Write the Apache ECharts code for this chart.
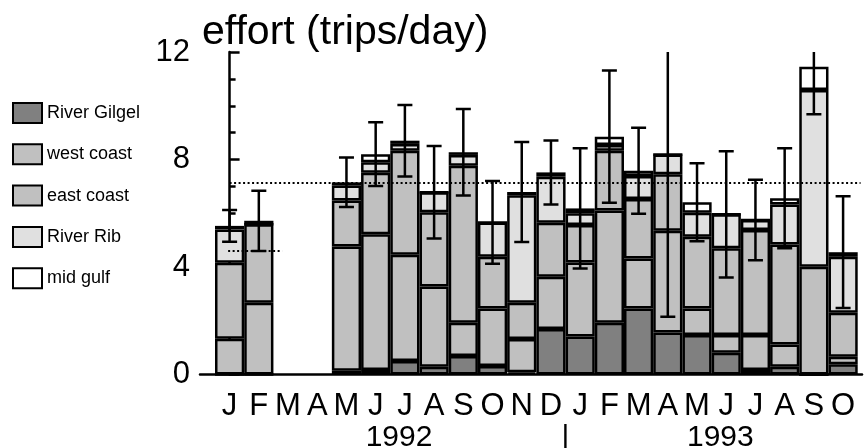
<!DOCTYPE html>
<html>
<head>
<meta charset="utf-8">
<script src="https://cdn.jsdelivr.net/npm/echarts@6/dist/echarts.min.js"></script>
<style>html,body{margin:0;padding:0;background:#fff}#c{width:865px;height:448px}</style>
</head>
<body>
<div id="c"></div>
<script>
// ---- data ----
var months = ['J','F','M','A','M','J','J','A','S','O','N','D','J','F','M','A','M','J','J','A','S','O'];
var riverGilgel = [0, 0, null, null, 0.14, 0.17, 0.50, 0.29, 0.69, 0.32, 0.08, 1.69, 1.41, 1.93, 2.46, 1.56, 1.47, 0.81, 0.17, 0.29, 0, 0.38];
var westCoast   = [1.33, 2.67, null, null, 4.62, 5.05, 3.96, 2.98, 1.24, 2.14, 1.24, 1.95, 2.76, 4.17, 1.86, 3.79, 0.99, 0.66, 1.30, 0.83, 0, 0.28];
var eastCoast   = [2.83, 2.92, null, null, 1.71, 2.29, 3.87, 2.77, 5.84, 1.92, 1.35, 2.01, 1.39, 2.23, 2.21, 2.10, 2.67, 3.23, 3.91, 3.72, 4.01, 1.64];
var riverRib    = [1.24, 0, null, null, 0.56, 0.39, 0.25, 0.74, 0.40, 1.28, 4.00, 1.71, 0.44, 0.21, 0.86, 0.74, 0.89, 1.26, 0.37, 1.49, 6.58, 2.08];
var midGulf     = [0.13, 0.13, null, null, 0.12, 0.30, 0.12, 0, 0.10, 0, 0.12, 0.16, 0.18, 0.31, 0.19, 0, 0.39, 0, 0, 0.23, 0.86, 0.17];
var errHalf     = [0.59, 1.12, null, null, 0.92, 1.19, 1.33, 1.72, 1.61, 1.54, 1.86, 1.19, 2.24, 2.46, 1.60, 6.04, 1.45, 2.35, 1.50, 1.86, 1.77, 2.08];
var meanLines   = [{value: 7.13, from: 0, to: 21.6}, {value: 4.60, from: -0.05, to: 1.8}];
var yearLabels  = [{text: '1992', at: 5.8}, {text: '|', at: 11.5}, {text: '1993', at: 16.8}];
var yTicks = [0, 4, 8, 12];

// ---- build ----
var seriesNames = ['River Gilgel', 'west coast', 'east coast', 'River Rib', 'mid gulf'];
var seriesData  = [riverGilgel, westCoast, eastCoast, riverRib, midGulf];
var colors      = ['#808080', '#c0c0c0', '#c0c0c0', '#e0e0e0', '#ffffff'];

// frame axis (grid 1) value range chosen so that bar i centre maps to value i
var XMIN = -1.013, XMAX = 21.65;
var FONT = '"Liberation Sans", Arial, Helvetica, sans-serif';

var series = seriesNames.map(function (n, k) {
  return {
    name: n, type: 'bar', stack: 'effort',
    xAxisIndex: 0, yAxisIndex: 0,
    barCategoryGap: 0,
    data: seriesData[k],
    itemStyle: { color: colors[k], borderColor: '#000', borderWidth: 2.5 },
    emphasis: { disabled: true },
    z: 2, silent: true
  };
});

var totals = months.map(function (m, i) {
  if (riverGilgel[i] == null) return null;
  var s = 0; seriesData.forEach(function (a) { s += a[i]; }); return s;
});
var errData = [];
totals.forEach(function (t, i) {
  if (t == null) return;
  errData.push([i, t - errHalf[i], t + errHalf[i]]);
});

series.push({
  type: 'custom', name: 'err', clip: true, z: 5, silent: true,
  xAxisIndex: 0, yAxisIndex: 0,
  data: errData,
  renderItem: function (params, api) {
    var x = api.value(0), lo = api.value(1), hi = api.value(2);
    var ph = api.coord([x, hi]), pl = api.coord([x, lo]);
    var hw = 7.5, st = { stroke: '#000', lineWidth: 2.5 };
    return { type: 'group', children: [
      { type: 'line', shape: { x1: ph[0], y1: ph[1], x2: pl[0], y2: pl[1] }, style: st },
      { type: 'line', shape: { x1: ph[0] - hw, y1: ph[1], x2: ph[0] + hw, y2: ph[1] }, style: st },
      { type: 'line', shape: { x1: pl[0] - hw, y1: pl[1], x2: pl[0] + hw, y2: pl[1] }, style: st }
    ]};
  }
});

meanLines.forEach(function (ml) {
  series.push({
    type: 'line', z: 4, silent: true, symbol: 'none',
    xAxisIndex: 1, yAxisIndex: 1,
    data: [[ml.from, ml.value], [ml.to, ml.value]],
    lineStyle: { color: '#000', width: 2, type: [2, 2.5] }
  });
});

var chart = echarts.init(document.getElementById('c'), null, { renderer: 'canvas' });
chart.setOption({
  animation: false,
  backgroundColor: '#fff',
  textStyle: { fontFamily: FONT },
  title: {
    text: 'effort (trips/day)', left: 197, top: 7,
    textStyle: { fontFamily: FONT, fontSize: 41, fontWeight: 'normal', color: '#000' }
  },
  legend: {
    orient: 'vertical', left: 7, top: 95,
    itemWidth: 29, itemHeight: 20, itemGap: 15.3,
    icon: 'rect', selectedMode: false,
    data: seriesNames,
    itemStyle: { borderColor: '#000', borderWidth: 2 },
    textStyle: { fontFamily: FONT, fontSize: 18, color: '#000', lineHeight: 20, padding: [6, 0, 0, 0] }
  },
  grid: [
    { left: 215, right: 7.3, top: 52, bottom: 73.5, outerBoundsMode: 'none' },
    { left: 200, right: 3, top: 52, bottom: 73.5, outerBoundsMode: 'none' }
  ],
  xAxis: [{
    type: 'category', gridIndex: 0, data: months, boundaryGap: true,
    axisLine: { show: false }, axisTick: { show: false }, splitLine: { show: false },
    axisLabel: { interval: 0, fontFamily: FONT, fontSize: 31, color: '#000', margin: 16 }
  }, {
    type: 'value', gridIndex: 1, min: XMIN, max: XMAX, position: 'bottom',
    axisLine: { show: true, lineStyle: { color: '#000', width: 2.5 } },
    axisTick: { show: false }, splitLine: { show: false },
    axisLabel: {
      customValues: yearLabels.map(function (y) { return y.at; }),
      formatter: function (v) {
        for (var i = 0; i < yearLabels.length; i++) if (Math.abs(yearLabels[i].at - v) < 1e-6) return yearLabels[i].text;
        return '';
      },
      fontFamily: FONT, fontSize: 30, color: '#000', margin: 48
    }
  }],
  yAxis: [{
    type: 'value', gridIndex: 0, min: 0, max: 12, show: false
  }, {
    type: 'value', gridIndex: 1, min: 0, max: 12, interval: 4,
    axisLine: { show: true, lineStyle: { color: '#000', width: 2.5 } },
    axisTick: { show: true, inside: true, length: 10, lineStyle: { color: '#000', width: 2.5 } },
    minorTick: { show: true, splitNumber: 4, length: 6, lineStyle: { color: '#000', width: 2.5 } },
    splitLine: { show: false },
    axisLabel: { fontFamily: FONT, fontSize: 31, color: '#000', margin: 10 }
  }],
  series: series
});
</script>
</body>
</html>
